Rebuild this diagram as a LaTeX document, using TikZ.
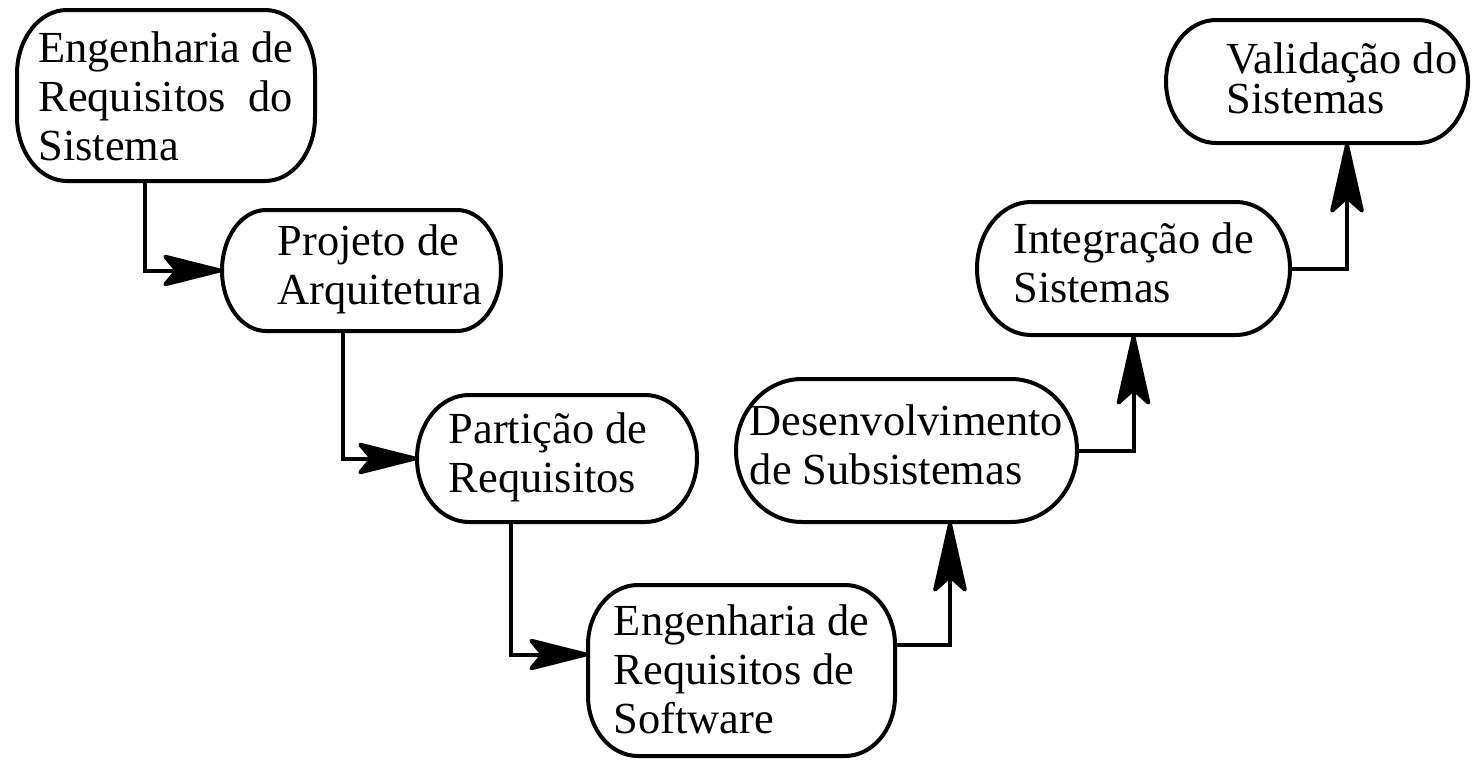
\documentclass[tikz,border=0pt]{standalone}
\usepackage{fontspec}
\setmainfont{Liberation Serif}
\usetikzlibrary{arrows.meta}
\newcommand{\etxt}[3]{\begin{tabular}{@{\hspace{#1}}l@{\hspace{#2}}}#3\end{tabular}}

\begin{document}
\begin{tikzpicture}[x=0.5pt,y=-0.5pt,
  etapa/.style={inner sep=0pt, outer sep=0pt, font=\fontsize{22.2}{24.5}\selectfont},
  contorno/.style={line width=2pt},
  seta/.style={line width=2pt, -{Stealth[length=34pt,width=17pt,inset=7pt,round]}},
  setav/.style={line width=2pt, -{Stealth[length=40pt,width=18pt,inset=8pt,round]}}]
\useasboundingbox (0,0) rectangle (1472,760);

\node[etapa, minimum width=149pt, minimum height=85.5pt] (sisreq) at (166,95.5) {\etxt{0pt}{0pt}{\rule{0pt}{23pt}Engenharia de\\Requisitos~~do\\Sistema}};
\node[etapa, minimum width=139.5pt, minimum height=60.5pt] (arq) at (361.5,270.5) {\etxt{18.5pt}{0pt}{Projeto de\\Arquitetura}};
\node[etapa, minimum width=140pt, minimum height=63.5pt] (part) at (557,458.5) {\etxt{0pt}{9pt}{Partição de\\Requisitos}};
\node[etapa, minimum width=153.5pt, minimum height=85.5pt] (softreq) at (741.5,670.5) {\etxt{0pt}{0pt}{\rule{0pt}{21pt}Engenharia de\\Requisitos de\\Software}};
\node[etapa, minimum width=170.5pt, minimum height=71.5pt] (desenv) at (906.5,450.5) {\etxt{0pt}{0pt}{Desenvolvimento\\de Subsistemas}};
\node[etapa, minimum width=156.5pt, minimum height=66.5pt] (integ) at (1133.5,268.5) {\etxt{0pt}{0pt}{Integração de\\Sistemas}};
\node[etapa, minimum width=151pt, minimum height=61.5pt] (valid) at (1317,81.5) {\etxt{25pt}{0pt}{\rule{0pt}{19pt}Validação do\\[-4.5pt]Sistemas}};

\foreach \n/\rx/\ry in {sisreq/25pt/32pt, arq/22pt/30.25pt, part/26pt/31.75pt, softreq/25pt/30pt,
    desenv/33pt/35.75pt, integ/27pt/33.25pt, valid/25pt/30.75pt}
  \draw[contorno] ([xshift=\rx]\n.north west) -- ([xshift=-\rx]\n.north east)
    arc[start angle=90, end angle=0, x radius=\rx, y radius=\ry] -- ([yshift=\ry]\n.south east)
    arc[start angle=0, end angle=-90, x radius=\rx, y radius=\ry] -- ([xshift=\rx]\n.south west)
    arc[start angle=270, end angle=180, x radius=\rx, y radius=\ry] -- ([yshift=-\ry]\n.north west)
    arc[start angle=180, end angle=90, x radius=\rx, y radius=\ry] -- cycle;

\draw[seta] ([xshift=-10.5pt]sisreq.south) |- (arq.west);
\draw[seta] ([xshift=-9.25pt]arq.south) |- (part.west);
\draw[seta] ([xshift=-23pt]part.south) |- ([yshift=8pt]softreq.west);
\draw[setav] ([yshift=12.75pt]softreq.east) -| ([xshift=21.75pt]desenv.south);
\draw[setav] (desenv.east) -| (integ.south);
\draw[setav] (integ.east) -| ([xshift=15pt]valid.south);
\end{tikzpicture}
\end{document}
